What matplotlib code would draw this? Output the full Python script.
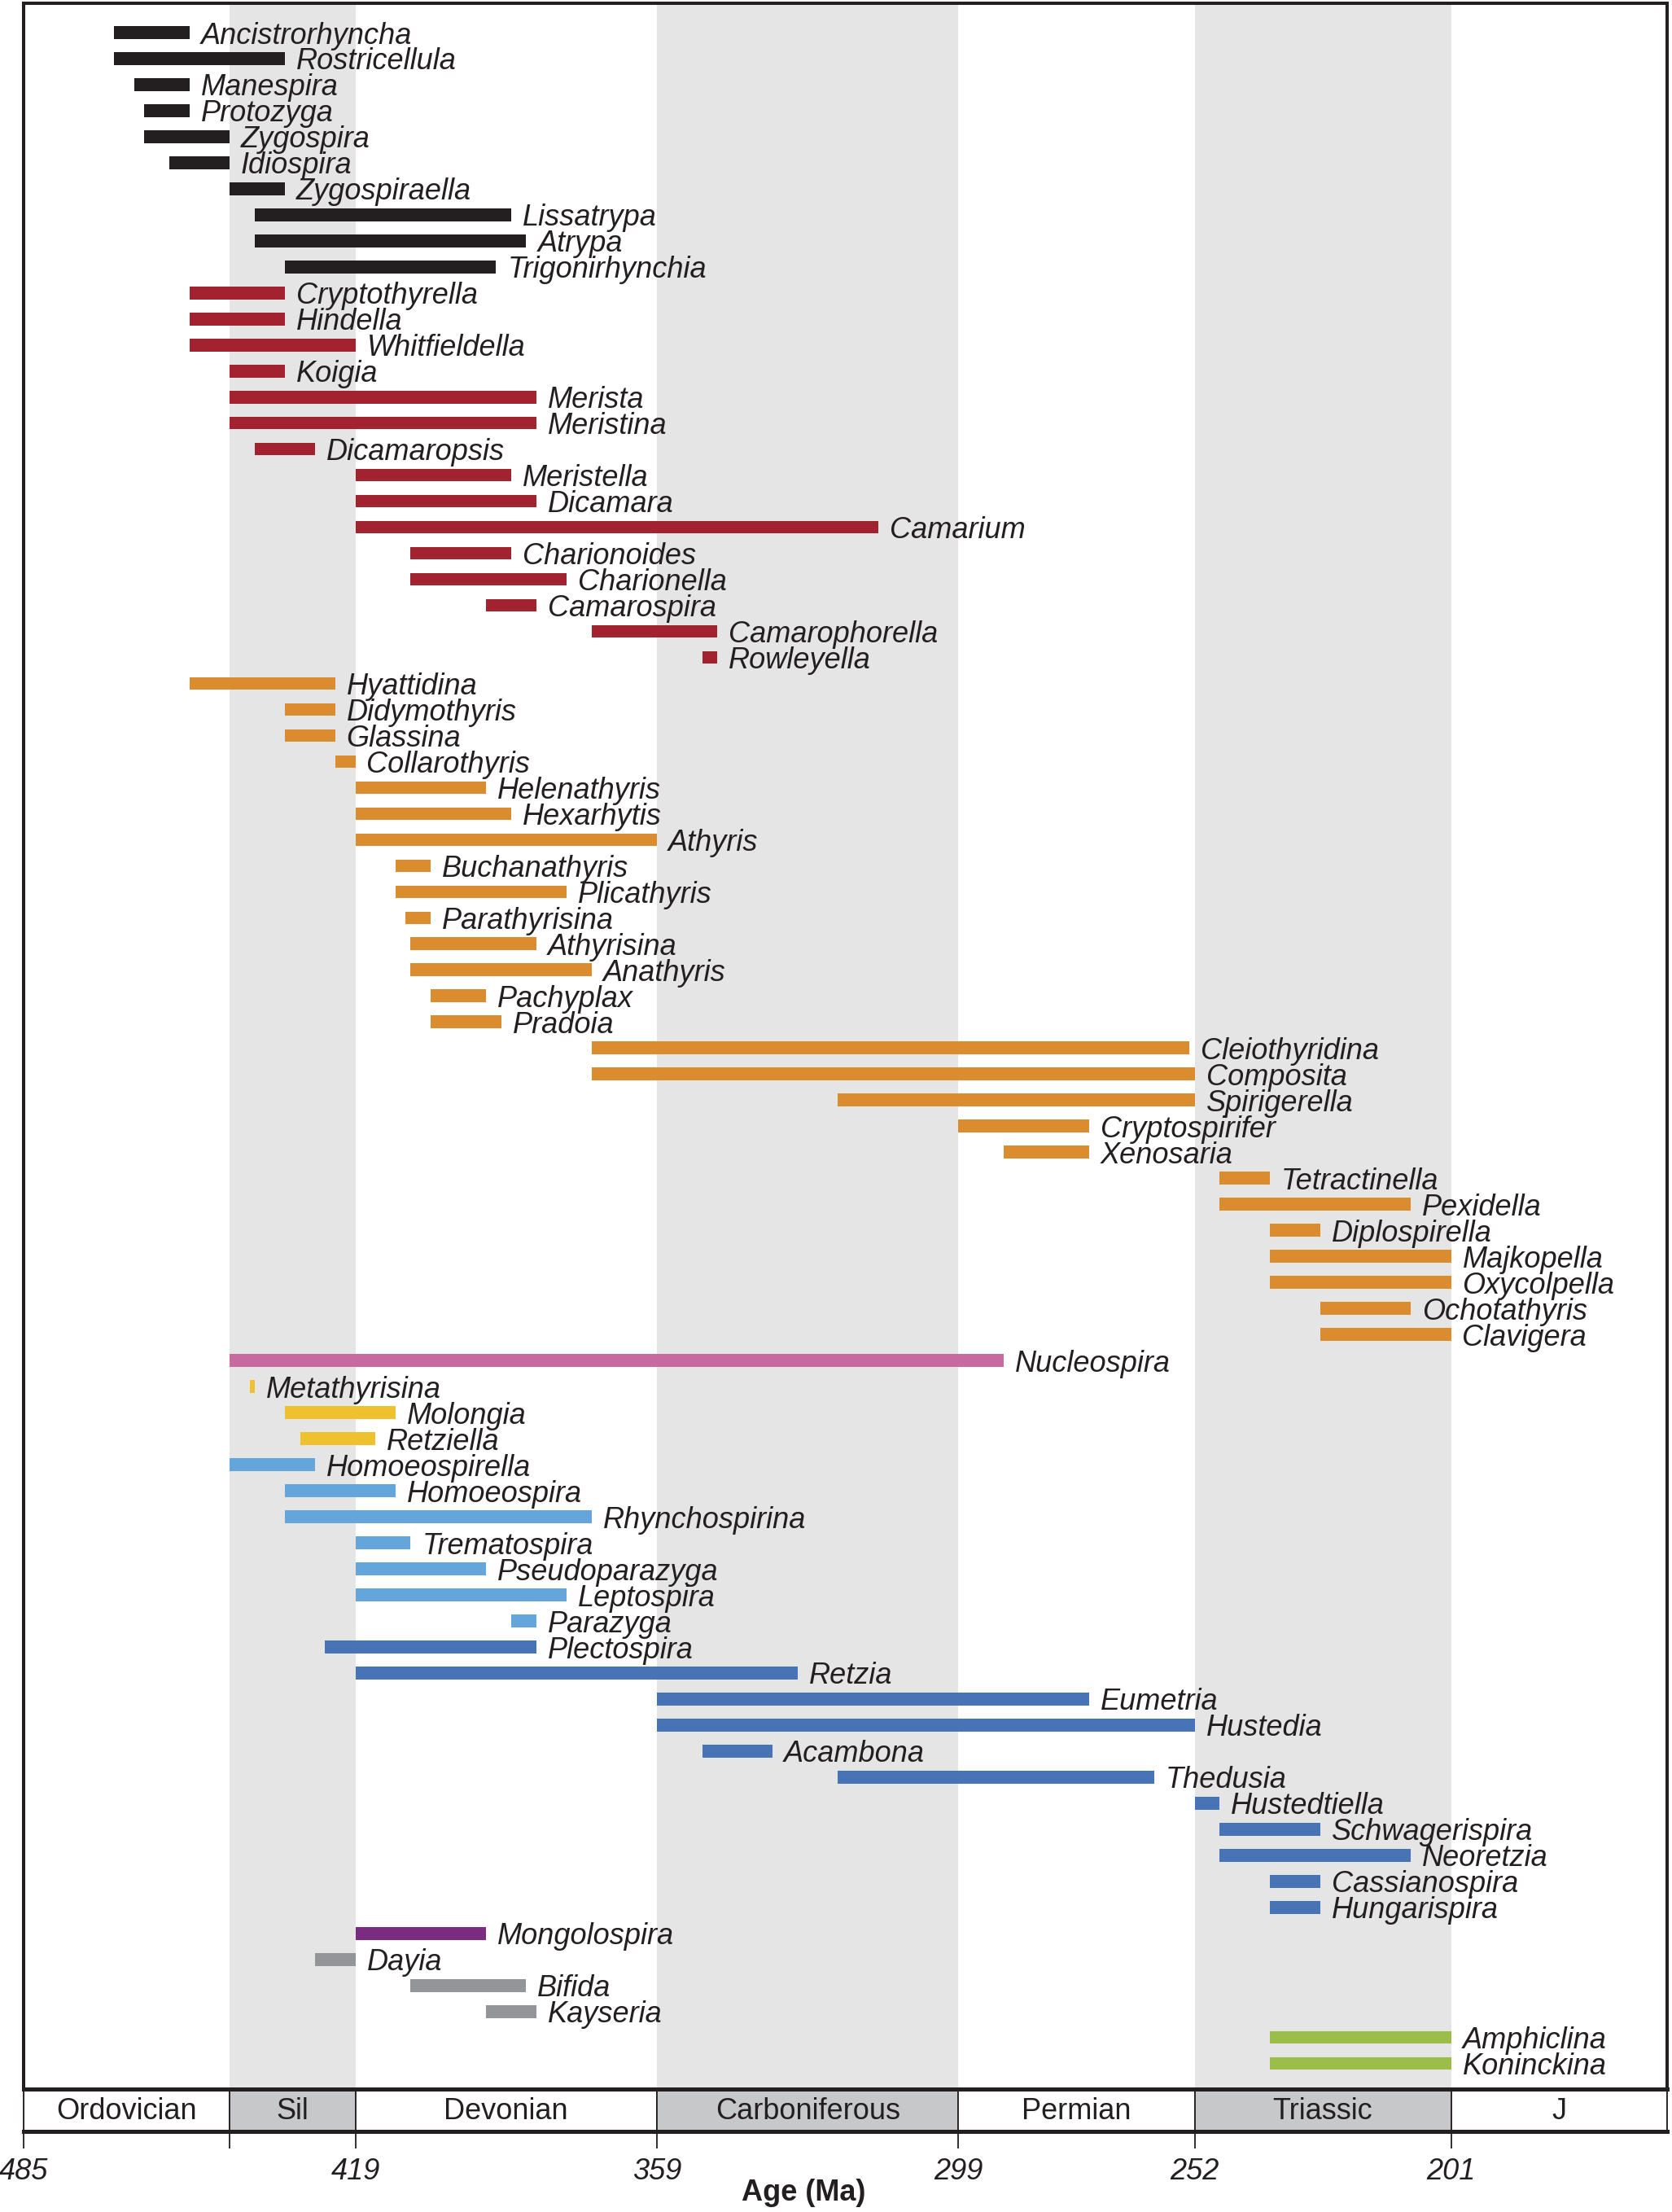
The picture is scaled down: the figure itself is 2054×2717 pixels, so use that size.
"""
Stratigraphic ranges of spire-bearing brachiopod genera, Ordovician to Triassic.
Bars run from first to last appearance (Ma), coloured by group.
"""
import matplotlib.pyplot as plt
import matplotlib.patches as mpatches

plt.rcParams.update({
    "font.family": ["Liberation Sans", "DejaVu Sans"],
    "font.size": 26,
})

# --- data -------------------------------------------------------------------
GENERA = [
    "Ancistrorhyncha", "Rostricellula", "Manespira", "Protozyga", "Zygospira",
    "Idiospira", "Zygospiraella", "Lissatrypa", "Atrypa", "Trigonirhynchia",
    "Cryptothyrella", "Hindella", "Whitfieldella", "Koigia", "Merista",
    "Meristina", "Dicamaropsis", "Meristella", "Dicamara", "Camarium",
    "Charionoides", "Charionella", "Camarospira", "Camarophorella", "Rowleyella",
    "Hyattidina", "Didymothyris", "Glassina", "Collarothyris", "Helenathyris",
    "Hexarhytis", "Athyris", "Buchanathyris", "Plicathyris", "Parathyrisina",
    "Athyrisina", "Anathyris", "Pachyplax", "Pradoia", "Cleiothyridina",
    "Composita", "Spirigerella", "Cryptospirifer", "Xenosaria", "Tetractinella",
    "Pexidella", "Diplospirella", "Majkopella", "Oxycolpella", "Ochotathyris",
    "Clavigera", "Nucleospira", "Metathyrisina", "Molongia", "Retziella",
    "Homoeospirella", "Homoeospira", "Rhynchospirina", "Trematospira",
    "Pseudoparazyga", "Leptospira", "Parazyga", "Plectospira", "Retzia",
    "Eumetria", "Hustedia", "Acambona", "Thedusia", "Hustedtiella",
    "Schwagerispira", "Neoretzia", "Cassianospira", "Hungarispira",
    "Mongolospira", "Dayia", "Bifida", "Kayseria", "Amphiclina", "Koninckina",
]

# first appearance (older, Ma)
FAD = [
    467, 467, 463, 461, 461, 456, 444, 439, 439, 433,
    452, 452, 452, 444, 444, 444, 439, 419, 419, 419,
    408, 408, 393, 372, 350,
    452, 433, 433, 423, 419, 419, 419, 411, 411, 409,
    408, 408, 404, 404, 372, 372, 323, 299, 290, 247,
    247, 237, 237, 237, 227, 227,
    444,
    440, 433, 430,
    444, 433, 433, 419, 419, 419, 388,
    425, 419, 359, 359, 350, 323, 252, 247, 247, 237, 237,
    419,
    427, 408, 393,
    237, 237,
]

# last appearance (younger, Ma)
LAD = [
    452, 433, 452, 452, 444, 444, 433, 388, 385, 391,
    433, 433, 419, 433, 383, 383, 427, 388, 383, 315,
    388, 377, 383, 347, 347,
    423, 423, 423, 419, 393, 388, 359, 404, 377, 404,
    383, 372, 393, 390, 253, 252, 252, 273, 273, 237,
    209, 227, 201, 201, 209, 201,
    290,
    439, 411, 415,
    427, 411, 372, 408, 393, 377, 383,
    383, 331, 273, 252, 336, 260, 247, 227, 209, 227, 227,
    393,
    419, 385, 383,
    201, 201,
]

# group of each genus
GROUP = (["atrypid"] * 10 + ["meristid"] * 15 + ["athyridid"] * 26
         + ["nucleospirid"] + ["retziellid"] * 3 + ["rhynchospirinid"] * 7
         + ["retziid"] * 11 + ["mongolospirid"] + ["dayiid"] * 3
         + ["koninckinid"] * 2)

GROUP_COLORS = {
    "atrypid": "#231f20",
    "meristid": "#a3222f",
    "athyridid": "#db8c2e",
    "nucleospirid": "#c76a9f",
    "retziellid": "#edc22e",
    "rhynchospirinid": "#64a6dc",
    "retziid": "#4773b7",
    "mongolospirid": "#7a2c80",
    "dayiid": "#939598",
    "koninckinid": "#9bbd4a",
}

# geological periods: (name, base, top) in Ma
PERIODS = ["Ordovician", "Sil", "Devonian", "Carboniferous", "Permian", "Triassic", "J"]
PERIOD_BASE = [485, 444, 419, 359, 299, 252, 201]
PERIOD_TOP = [444, 419, 359, 299, 252, 201, 158]
PERIOD_SHADED = [False, True, False, True, False, True, False]

TICKS = [485, 444, 419, 359, 299, 252, 201]
TICK_LABELS = ["485", "", "419", "359", "299", "252", "201"]

X_OLD, X_YOUNG = 485, 158
TEXT_COLOR = "#231f20"


def main():
    fig = plt.figure(figsize=(20.54, 27.17), dpi=100)
    ax = fig.add_axes([0.01412, 0.05558, 0.98296, 0.94292])
    ts = fig.add_axes([0.01412, 0.03643, 0.98296, 0.01915])

    # shaded period bands behind the ranges
    for base, top, shaded in zip(PERIOD_BASE, PERIOD_TOP, PERIOD_SHADED):
        if shaded:
            ax.axvspan(top, base, color="#e5e5e5", lw=0, zorder=0)

    n = len(GENERA)
    for i, (name, fad, lad, grp) in enumerate(zip(GENERA, FAD, LAD, GROUP)):
        ax.barh(i, fad - lad, left=lad, height=0.49,
                color=GROUP_COLORS[grp], lw=0, zorder=2)
        ax.annotate(name, xy=(lad, i), xytext=(10, -9.8),
                    textcoords="offset points", ha="left", va="baseline",
                    style="italic", fontsize=26, color=TEXT_COLOR, zorder=3)

    ax.set_xlim(X_OLD, X_YOUNG)
    ax.set_ylim(n - 1 + 0.98, -1.12)
    ax.set_xticks([])
    ax.set_yticks([])
    for side, sp in ax.spines.items():
        sp.set_linewidth(2.9)
        sp.set_color(TEXT_COLOR)
    ax.spines["bottom"].set_linewidth(3.6)

    # time scale strip
    for name, base, top, shaded in zip(PERIODS, PERIOD_BASE, PERIOD_TOP, PERIOD_SHADED):
        ts.add_patch(mpatches.Rectangle((top, 0), base - top, 1,
                                        facecolor="#c7c8ca" if shaded else "white",
                                        edgecolor=TEXT_COLOR, lw=1.3))
        ts.text((base + top) / 2, 0.47, name, ha="center", va="center",
                fontsize=26, color=TEXT_COLOR)
    ts.set_xlim(X_OLD, X_YOUNG)
    ts.set_ylim(0, 1)
    ts.set_yticks([])
    ts.set_xticks(TICKS)
    ts.set_xticklabels(TICK_LABELS, style="italic", fontsize=26, color=TEXT_COLOR)
    ts.tick_params(axis="x", direction="out", length=15, width=1.3,
                   color=TEXT_COLOR, pad=8)
    for side, sp in ts.spines.items():
        sp.set_color(TEXT_COLOR)
        sp.set_linewidth(1.3)
    ts.spines["top"].set_linewidth(3.6)
    ts.spines["bottom"].set_linewidth(3.6)

    fig.text(0.4806, 0.0088, "Age (Ma)", ha="center", va="center",
             fontsize=26, fontweight="bold", color=TEXT_COLOR)

    fig.savefig("out.png", dpi=100)
    plt.close(fig)


if __name__ == "__main__":
    main()
